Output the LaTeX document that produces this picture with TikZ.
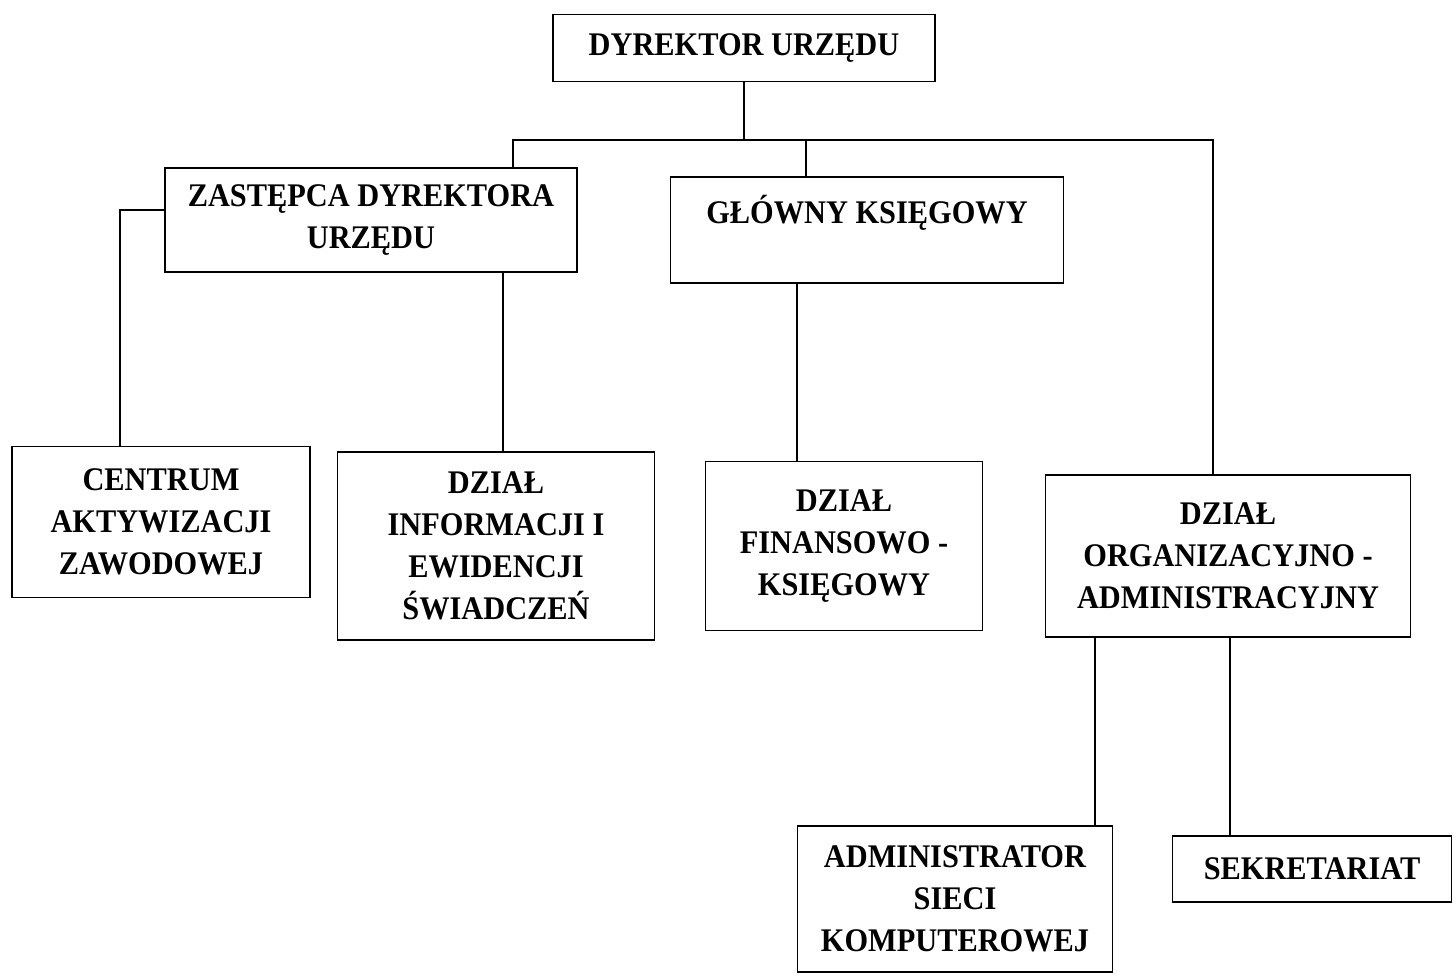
\documentclass[tikz,border=0pt]{standalone}
\usepackage{fontspec}
\setmainfont{Liberation Serif}[FakeStretch=0.92]

\begin{document}
\begin{tikzpicture}[x=0.5pt, y=-0.5pt,
	unit/.style={draw, line width=0.9pt, align=center, inner sep=0pt, font=\fontsize{16.5}{21}\selectfont\bfseries},
	link/.style={line width=0.9pt}]
	\useasboundingbox (0,0) rectangle (1456,975);
	\node [unit, minimum width=191pt, minimum height=33.5pt] (dyr) at (744, 48) {DYREKTOR URZĘDU};
	\node [unit, minimum width=206pt, minimum height=52pt] (zast) at (371, 220) {ZASTĘPCA DYREKTORA\\URZĘDU};
	\node [unit, minimum width=196.5pt, minimum height=53pt] (ksieg) at (867, 230) {GŁÓWNY KSIĘGOWY\\\mbox{}};
	
	\node [unit, minimum width=149pt, minimum height=75.5pt] (centrum) at (161, 522) {CENTRUM\\AKTYWIZACJI\\ZAWODOWEJ};
	\node [unit, minimum width=158.5pt, minimum height=94pt] (info) at (496, 546) {DZIAŁ\\INFORMACJI I\\EWIDENCJI\\ŚWIADCZEŃ};
	\node [unit, minimum width=138.5pt, minimum height=84.5pt] (fin) at (844, 546) {DZIAŁ\\FINANSOWO -\\KSIĘGOWY};
	\node [unit, minimum width=182.5pt, minimum height=81pt] (org) at (1228, 556) {DZIAŁ\\ORGANIZACYJNO -\\ADMINISTRACYJNY};
	
	\node [unit, minimum width=157.5pt, minimum height=73pt] (admin) at (955, 899) {ADMINISTRATOR\\SIECI\\KOMPUTEROWEJ};
	\node [unit, minimum width=139.5pt, minimum height=33pt] (sekr) at (1312, 869) {SEKRETARIAT};
	
	\coordinate (busL) at (513, 140);
	\coordinate (busM) at (806, 140);
	\coordinate (busR) at (1213, 140);
	\coordinate (zastL) at (120, 210);
	\coordinate (zastR) at (503, 272);
	\coordinate (ksiegB) at (797, 283);
	\coordinate (orgL) at (1095, 637);
	\coordinate (orgR) at (1230, 637);
	
	\draw [link] (dyr.south) -- (dyr.south |- busL);
	\draw [link] (busL |- zast.north) -- (busL) -- (busR) -- (busR |- org.north);
	\draw [link] (busM) -- (busM |- ksieg.north);
	\draw [link] (zast.west |- zastL) -- (zastL) -- (zastL |- centrum.north);
	\draw [link] (zastR) -- (zastR |- info.north);
	\draw [link] (ksiegB) -- (ksiegB |- fin.north);
	\draw [link] (orgL) -- (orgL |- admin.north);
	\draw [link] (orgR) -- (orgR |- sekr.north);
\end{tikzpicture}
\end{document}
